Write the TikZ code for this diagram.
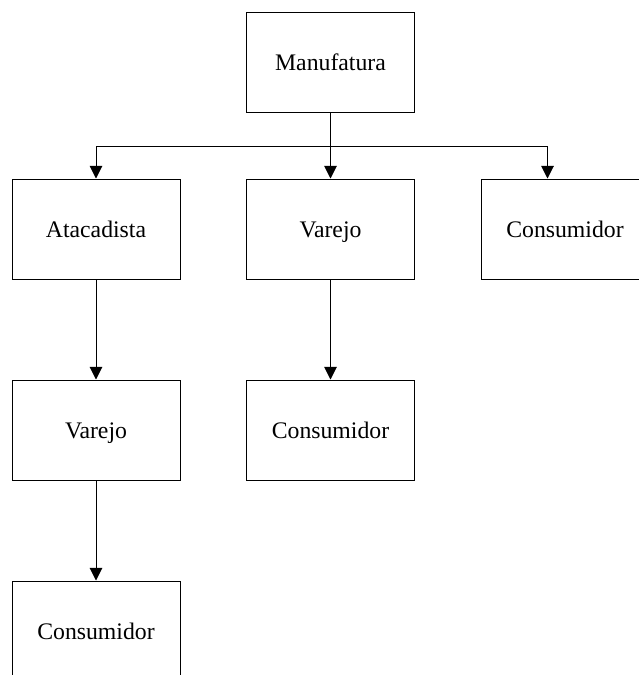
\documentclass[tikz,border=0pt]{standalone}
\usepackage{fontspec}
\setmainfont{Liberation Serif}
\usetikzlibrary{arrows.meta}

\begin{document}
\begin{tikzpicture}[x=0.75pt, y=-0.75pt,
  caixa/.style={draw, line width=0.75pt, minimum width=126pt, minimum height=75pt,
    inner sep=0pt, text height=13pt, text depth=1pt,
    font=\fontsize{17.8}{20}\selectfont},
  seta/.style={line width=0.75pt, -{Triangle[length=9.5pt,width=9.5pt]}}
]
  \useasboundingbox (0,0) rectangle (639,675);
  \clip (0,0) rectangle (639,675);

  \node[caixa] (manuf) at (330.5,62) {Manufatura};
  \node[caixa] (atac) at (96,229) {Atacadista};
  \node[caixa] (varejoB) at (330.5,229) {Varejo};
  \node[caixa] (consC) at (565,229) {Consumidor};
  \node[caixa] (varejoA) at (96,430) {Varejo};
  \node[caixa] (consB) at (330.5,430) {Consumidor};
  \node[caixa] (consA) at (96,631) {Consumidor};

  \coordinate (bar) at (330.5,146);
  \draw[line width=0.75pt] (manuf) -- (bar);
  \draw[seta] (bar) -- (varejoB);
  \draw[seta] (bar) -| (atac);
  \draw[seta] (bar) -| ([xshift=50.25pt]consC.north west);
  \draw[seta] (atac) -- (varejoA);
  \draw[seta] (varejoA) -- (consA);
  \draw[seta] (varejoB) -- (consB);
\end{tikzpicture}
\end{document}
